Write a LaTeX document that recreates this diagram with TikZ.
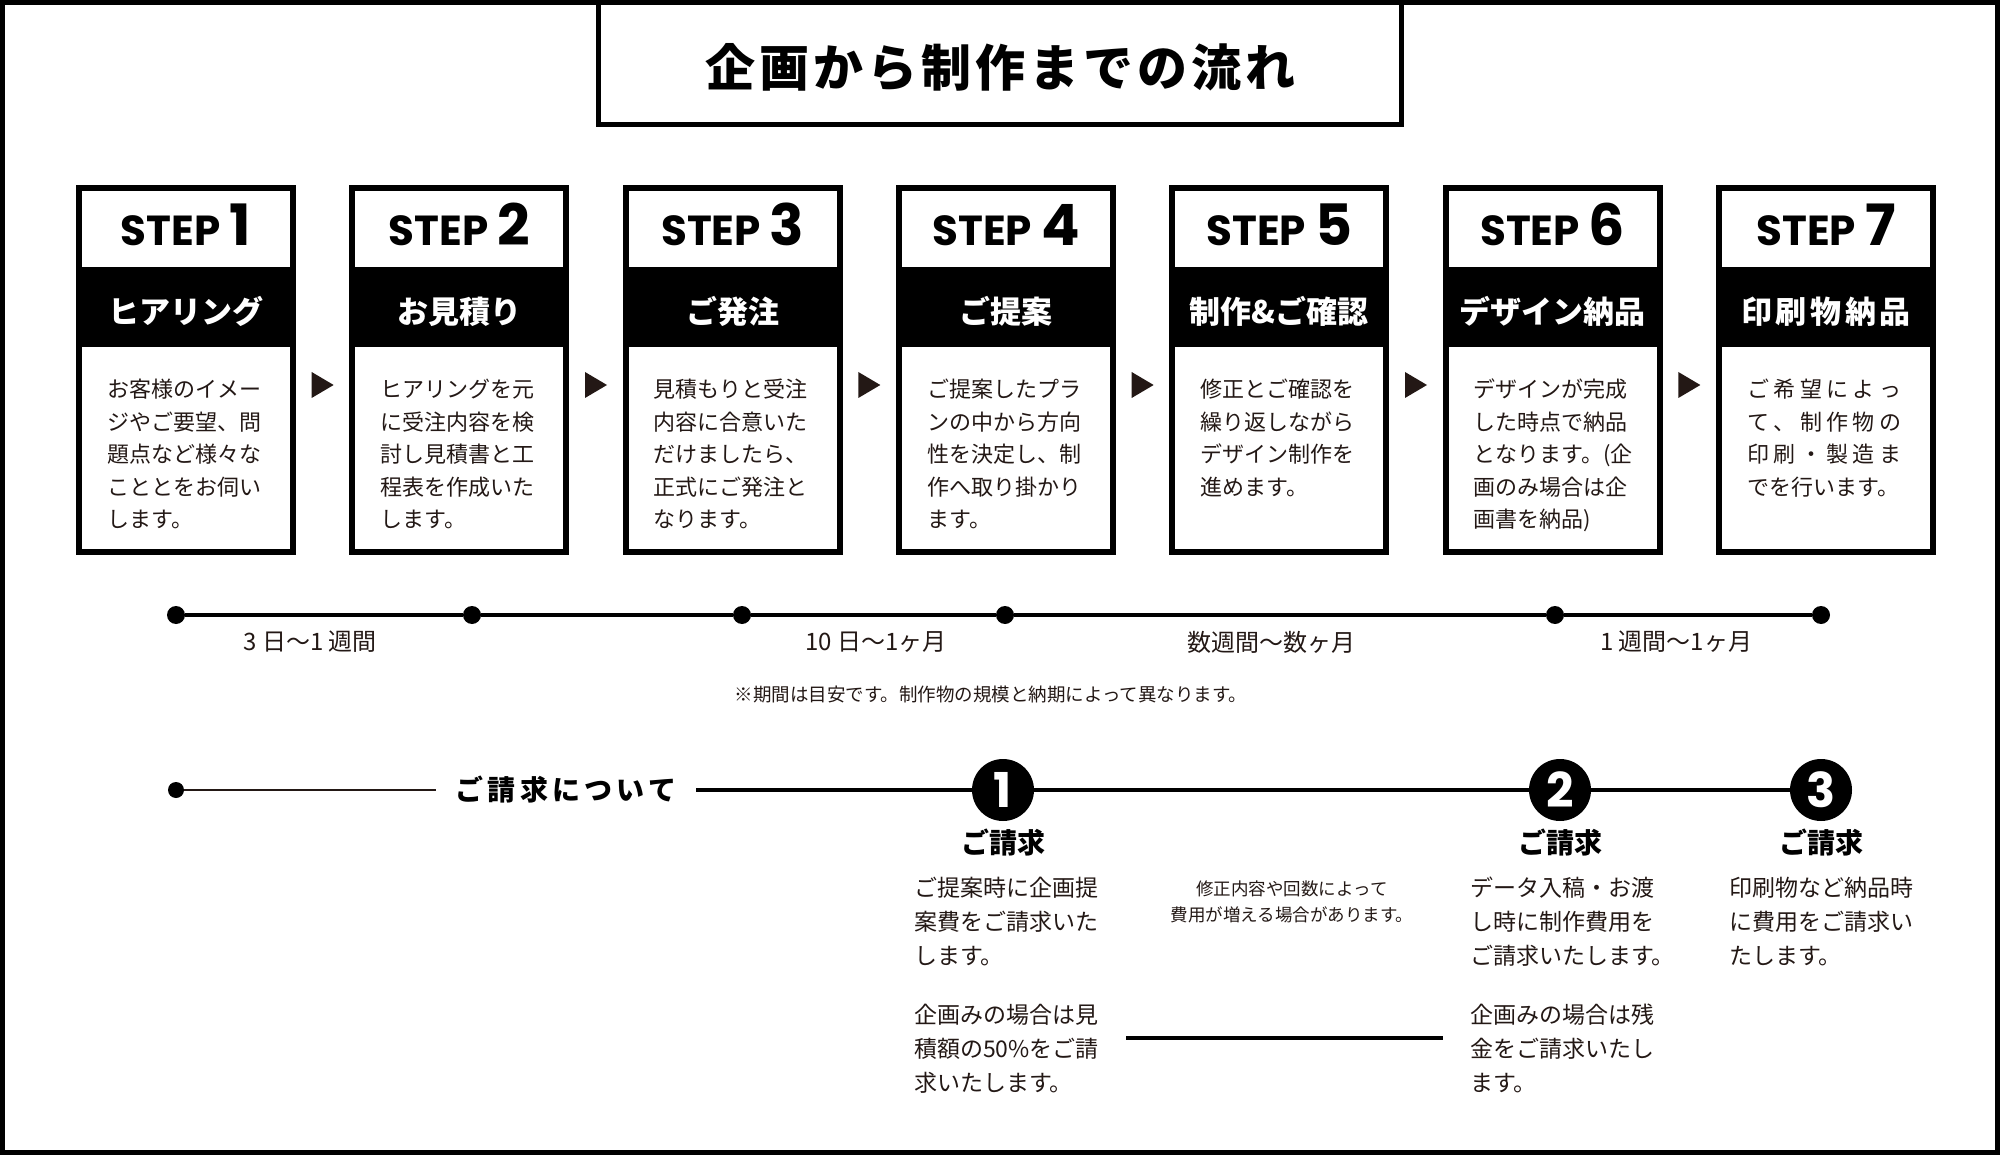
\documentclass[tikz,border=0pt]{standalone}
\usepackage{fontspec}
\setmainfont{Noto Sans CJK JP}
\newfontfamily\stepfont{Poppins}
\usetikzlibrary{calc}
\definecolor{ink}{RGB}{35,24,21}
\newcommand{\stepnum}[1]{\hspace{9pt}{\fontsize{57}{57}\selectfont #1}}
\newcommand{\spreadline}[1]{\makebox[154pt][s]{#1}}

\begin{document}
\begin{tikzpicture}[x=1pt, y=-1pt]

    \tikzstyle{frame} = [line width=5pt];
    \tikzstyle{titlebox} = [draw, line width=5pt, fill=white, minimum width=803pt, minimum height=122pt, inner sep=0, text height=46pt, text depth=0pt, font=\bfseries\fontsize{50}{50}\selectfont\addfontfeature{LetterSpace=8}];
    \tikzstyle{stepbox} = [draw, line width=6pt, minimum width=214pt, minimum height=364pt, inner sep=0];
    \tikzstyle{band} = [fill=black, minimum width=214pt, minimum height=80pt, inner sep=0, text height=34pt, text depth=0pt, text=white, font=\bfseries\fontsize{31}{31}\selectfont];
    \tikzstyle{stephead} = [anchor=base, inner sep=0, font=\stepfont\bfseries\fontsize{42}{42}\selectfont];
    \tikzstyle{body} = [anchor=north west, align=left, inner sep=0, text=ink, font=\fontsize{22}{32.5}\selectfont];
    \tikzstyle{tri} = [fill=ink];
    \tikzstyle{dot} = [circle, fill=black, minimum size=18pt, inner sep=0];
    \tikzstyle{tline} = [line width=4pt];
    \tikzstyle{spanlabel} = [text=ink, inner sep=0, font=\fontsize{24}{24}\selectfont];
    \tikzstyle{numcircle} = [circle, fill=black, minimum size=62pt, inner sep=0, text=white, font=\stepfont\bfseries\fontsize{48}{48}\selectfont];
    \tikzstyle{billhead} = [inner sep=0, font=\bfseries\fontsize{28}{28}\selectfont];
    \tikzstyle{billtext} = [anchor=north west, align=left, inner sep=0, text=ink, font=\fontsize{23}{34}\selectfont];

    \useasboundingbox (0,0) rectangle (2000,1155);
    \draw[frame] (2.5,2.5) rectangle (1997.5,1152.5);

    % Title
    \node[titlebox] (TB) at (1000,64) {企画から制作までの流れ};

    % Steps
    \node[stepbox] (S1) at (186,370) {};
    \node[band] (B1) at (186,307) {ヒアリング};
    \node[stephead] (H1) at (186,246) {STEP\stepnum{1}};
    \node[body] (T1) at (107,379) {お客様のイメー\\ジやご要望、問\\題点など様々な\\こととをお伺い\\します。};

    \node[stepbox] (S2) at (459.3,370) {};
    \node[band] (B2) at (459.3,307) {お見積り};
    \node[stephead] (H2) at (459.3,246) {STEP\stepnum{2}};
    \node[body] (T2) at (380.3,379) {ヒアリングを元\\に受注内容を検\\討し見積書と工\\程表を作成いた\\します。};

    \node[stepbox] (S3) at (732.7,370) {};
    \node[band] (B3) at (732.7,307) {ご発注};
    \node[stephead] (H3) at (732.7,246) {STEP\stepnum{3}};
    \node[body] (T3) at (653.7,379) {見積もりと受注\\内容に合意いた\\だけましたら、\\正式にご発注と\\なります。};

    \node[stepbox] (S4) at (1006,370) {};
    \node[band] (B4) at (1006,307) {ご提案};
    \node[stephead] (H4) at (1006,246) {STEP\stepnum{4}};
    \node[body] (T4) at (927,379) {ご提案したプラ\\ンの中から方向\\性を決定し、制\\作へ取り掛かり\\ます。};

    \node[stepbox] (S5) at (1279.3,370) {};
    \node[band] (B5) at (1279.3,307) {制作\&ご確認};
    \node[stephead] (H5) at (1279.3,246) {STEP\stepnum{5}};
    \node[body] (T5) at (1200.3,379) {修正とご確認を\\繰り返しながら\\デザイン制作を\\進めます。};

    \node[stepbox] (S6) at (1552.7,370) {};
    \node[band] (B6) at (1552.7,307) {デザイン納品};
    \node[stephead] (H6) at (1552.7,246) {STEP\stepnum{6}};
    \node[body] (T6) at (1473.7,379) {デザインが完成\\した時点で納品\\となります。(企\\画のみ場合は企\\画書を納品)};

    \node[stepbox] (S7) at (1826,370) {};
    \node[band] (B7) at (1826,307) {\addfontfeature{LetterSpace=12}印刷物納品};
    \node[stephead] (H7) at (1826,246) {STEP\stepnum{7}};
    \node[body] (T7) at (1747,379) {\spreadline{ご\hfill 希\hfill 望\hfill に\hfill よ\hfill っ}\\\spreadline{て\hfill 、\hfill 制\hfill 作\hfill 物\hfill の}\\\spreadline{印\hfill 刷\hfill ・\hfill 製\hfill 造\hfill ま}\\でを行います。};

    \coordinate (M12) at ($(S1.east)!0.5!(S2.west)$);
    \coordinate (M23) at ($(S2.east)!0.5!(S3.west)$);
    \coordinate (M34) at ($(S3.east)!0.5!(S4.west)$);
    \coordinate (M45) at ($(S4.east)!0.5!(S5.west)$);
    \coordinate (M56) at ($(S5.east)!0.5!(S6.west)$);
    \coordinate (M67) at ($(S6.east)!0.5!(S7.west)$);
    \fill[tri] ($(M12)+(-11,2)$) -- ++(22,13) -- ++(-22,13) -- cycle;
    \fill[tri] ($(M23)+(-11,2)$) -- ++(22,13) -- ++(-22,13) -- cycle;
    \fill[tri] ($(M34)+(-11,2)$) -- ++(22,13) -- ++(-22,13) -- cycle;
    \fill[tri] ($(M45)+(-11,2)$) -- ++(22,13) -- ++(-22,13) -- cycle;
    \fill[tri] ($(M56)+(-11,2)$) -- ++(22,13) -- ++(-22,13) -- cycle;
    \fill[tri] ($(M67)+(-11,2)$) -- ++(22,13) -- ++(-22,13) -- cycle;
    % Steps

    % Timeline
    \node[dot] (D1) at (176,615) {};
    \node[dot] (D2) at (472,615) {};
    \node[dot] (D3) at (742,615) {};
    \node[dot] (D4) at (1005,615) {};
    \node[dot] (D5) at (1555,615) {};
    \node[dot] (D6) at (1821,615) {};
    \draw[tline] (D1) -- (D2) -- (D3) -- (D4) -- (D5) -- (D6);

    \node[spanlabel] (L1) at (310,642) {3 日〜1 週間};
    \node[spanlabel] (L2) at (876,642) {10 日〜1ヶ月};
    \node[spanlabel] (L3) at (1271,642) {数週間〜数ヶ月};
    \node[spanlabel] (L4) at (1676,642) {1 週間〜1ヶ月};
    \node[spanlabel, font=\fontsize{18.5}{18.5}\selectfont] (NT) at (991,694) {※期間は目安です。制作物の規模と納期によって異なります。};
    % Timeline

    % Billing
    \node[dot, minimum size=16pt] (BD) at (176,790) {};
    \node[billhead, inner xsep=20pt, font=\bfseries\fontsize{28}{28}\selectfont\addfontfeature{LetterSpace=15}] (BL) at (566,790) {ご請求について};
    \node[numcircle] (C1) at (1003,790) {1};
    \node[numcircle] (C2) at (1560,790) {2};
    \node[numcircle] (C3) at (1821,790) {3};
    \draw[line width=2.5pt, ink] (BD) -- (BL);
    \draw[tline] (BL) -- (C1) -- (C2) -- (C3);

    \node[billhead] (R1) at (1003,843) {ご請求};
    \node[billhead] (R2) at (1560,843) {ご請求};
    \node[billhead] (R3) at (1821,843) {ご請求};

    \node[billtext] (P1a) at (914,876.5) {ご提案時に企画提\\案費をご請求いた\\します。};
    \node[billtext] (P1b) at (914,1003.5) {企画みの場合は見\\積額の50\%をご請\\求いたします。};
    \node[billtext] (P2a) at (1470,876.5) {データ入稿・お渡\\し時に制作費用を\\ご請求いたします。};
    \node[billtext] (P2b) at (1470,1003.5) {企画みの場合は残\\金をご請求いたし\\ます。};
    \node[billtext] (P3a) at (1729,876.5) {印刷物など納品時\\に費用をご請求い\\たします。};

    \node[align=center, inner sep=0, text=ink, font=\fontsize{17.5}{26}\selectfont] (NB) at (1292,902) {修正内容や回数によって\\費用が増える場合があります。};
    \coordinate (E1) at (1126,1038);
    \coordinate (E2) at (1443,1038);
    \draw[tline] (E1) -- (E2);
    % Billing

\end{tikzpicture}
\end{document}
